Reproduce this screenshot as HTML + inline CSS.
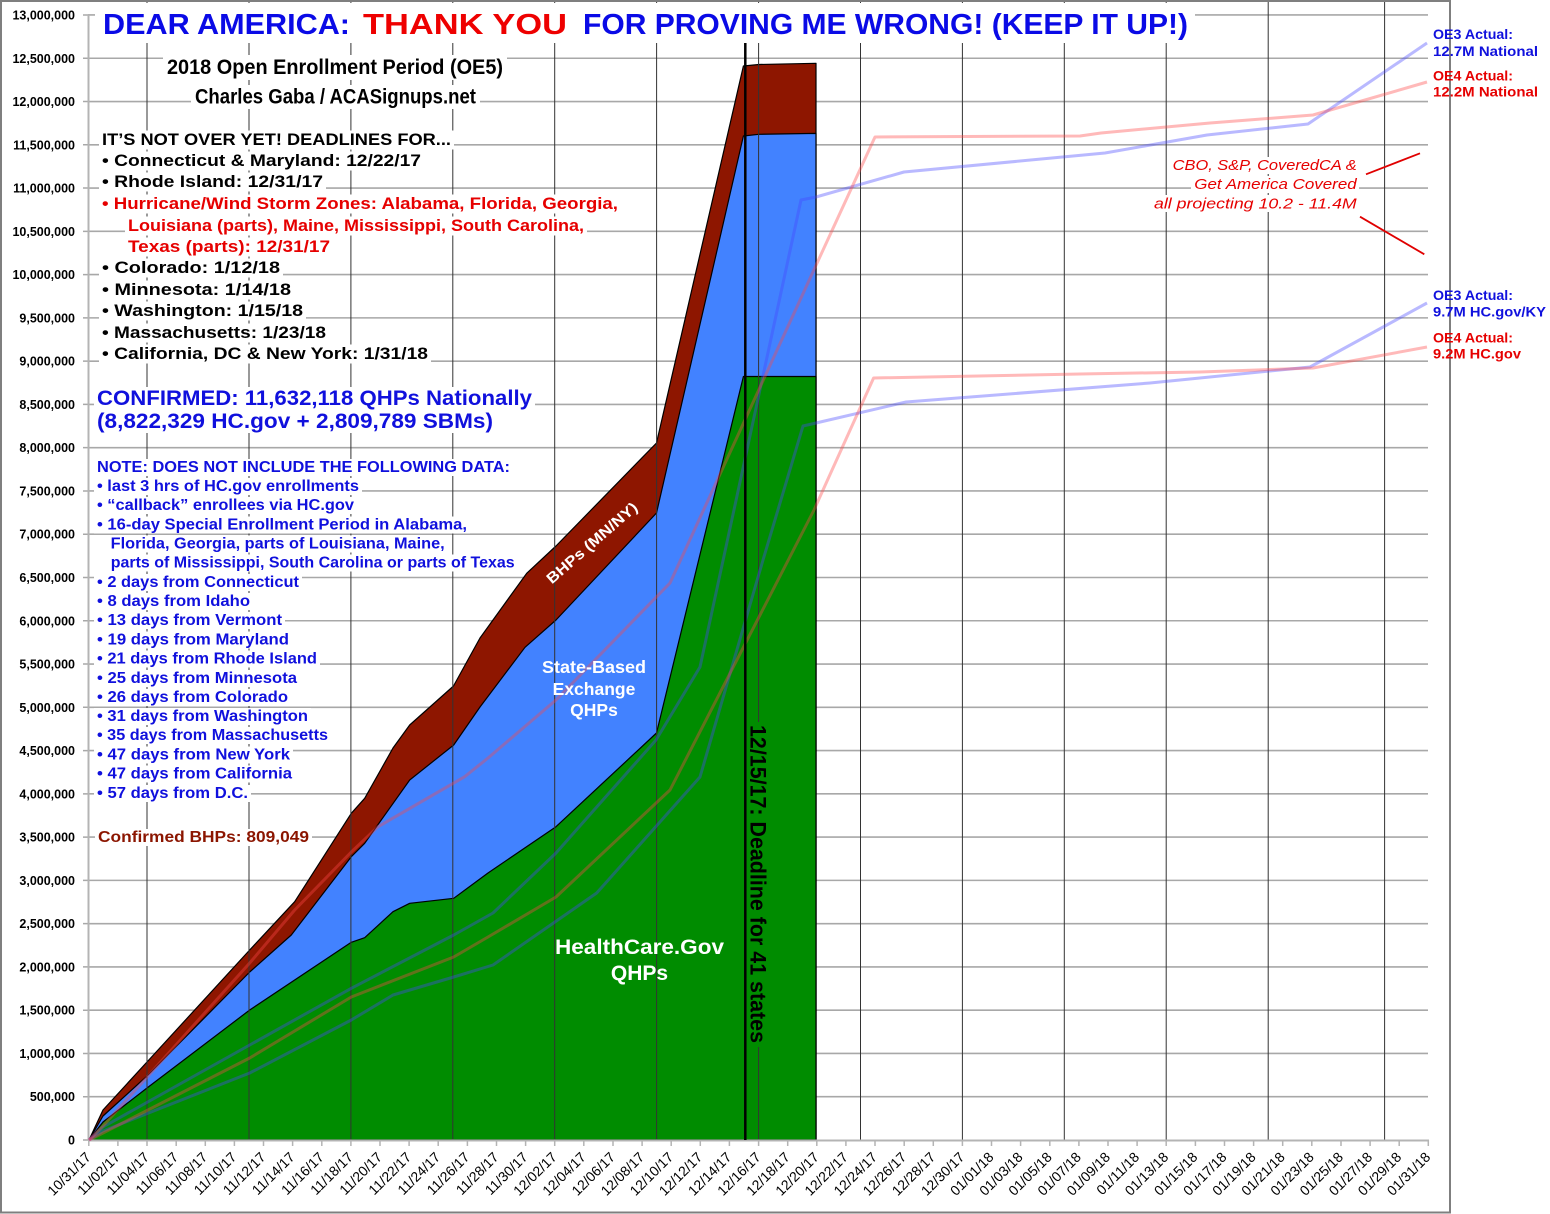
<!DOCTYPE html>
<html><head><meta charset="utf-8"><style>html,body{margin:0;padding:0;background:#fff}svg{display:block}</style></head>
<body>
<svg width="1550" height="1214" viewBox="0 0 1550 1214" xmlns="http://www.w3.org/2000/svg" font-family="'Liberation Sans', sans-serif">
<rect x="0" y="0" width="1550" height="1214" fill="#fff"/>
<!-- frame -->
<rect x="1" y="1" width="1449" height="1211.5" fill="none" stroke="#7f7f7f" stroke-width="2"/>
<!-- horizontal gridlines -->
<path stroke="#a8a8a8" stroke-width="1.6" fill="none" d="M88 1096.73H1428M88 1053.46H1428M88 1010.19H1428M88 966.92H1428M88 923.65H1428M88 880.38H1428M88 837.11H1428M88 793.84H1428M88 750.57H1428M88 707.3H1428M88 664.03H1428M88 620.76H1428M88 577.49H1428M88 534.22H1428M88 490.95H1428M88 447.68H1428M88 404.41H1428M88 361.14H1428M88 317.87H1428M88 274.6H1428M88 231.33H1428M88 188.06H1428M88 144.79H1428M88 101.52H1428M88 58.25H1428M88 14.98H1428"/>
<!-- y ticks -->
<path stroke="#a8a8a8" stroke-width="1.5" fill="none" d="M83 1140H88M83 1096.73H88M83 1053.46H88M83 1010.19H88M83 966.92H88M83 923.65H88M83 880.38H88M83 837.11H88M83 793.84H88M83 750.57H88M83 707.3H88M83 664.03H88M83 620.76H88M83 577.49H88M83 534.22H88M83 490.95H88M83 447.68H88M83 404.41H88M83 361.14H88M83 317.87H88M83 274.6H88M83 231.33H88M83 188.06H88M83 144.79H88M83 101.52H88M83 58.25H88M83 14.98H88"/>
<!-- areas -->
<polygon fill="#8e1600" stroke="#000" stroke-width="1.2" stroke-linejoin="round" points="89,1140 103,1110 147,1062 249.7,950 294.7,901.7 351.3,813.3 364.7,798.3 393,748 409.7,725 453.5,686 480,638 526.7,573.3 556,546 656.5,443 743.4,66 758.8,64.5 816,63.3 816,1140"/>
<polygon fill="#4282ff" stroke="#000" stroke-width="1.2" stroke-linejoin="round" points="89,1140 103,1116 147,1076 249.7,972 291.3,935 351.3,856.7 364.7,843.3 409.7,780 453.7,745 480,707 525,647.3 556,620 656.5,513 743.4,136 758.8,134.3 816,133.4 816,1140"/>
<polygon fill="#008c00" stroke="#000" stroke-width="1.2" stroke-linejoin="round" points="89,1140 103,1122 147,1088 249.7,1010 351.3,942.3 364.7,937.7 393,911.7 409.7,903.3 453.7,898.3 488,873 556,826.7 656.5,733 743.4,376.5 816,376.5 816,1140"/>
<!-- vertical gridlines -->
<path stroke="#333" stroke-width="1" fill="none" d="M147 2V1140M249 2V1140M350.9 2V1140M452.8 2V1140M554.7 2V1140M656.6 2V1140M758.6 2V1140M860.5 2V1140M962.4 2V1140M1064.3 2V1140M1166.2 2V1140M1268.2 2V1140M1384.6 2V1140"/>
<!-- axes -->
<path stroke="#b4b4b4" stroke-width="2" fill="none" d="M88.5 15V1140M88 1140.5H1429"/>
<path stroke="#b4b4b4" stroke-width="1.5" fill="none" d="M88.8 1140V1146M117.9 1140V1146M147 1140V1146M176.2 1140V1146M205.3 1140V1146M234.4 1140V1146M263.5 1140V1146M292.6 1140V1146M321.8 1140V1146M350.9 1140V1146M380 1140V1146M409.1 1140V1146M438.2 1140V1146M467.4 1140V1146M496.5 1140V1146M525.6 1140V1146M554.7 1140V1146M583.8 1140V1146M613 1140V1146M642.1 1140V1146M671.2 1140V1146M700.3 1140V1146M729.4 1140V1146M758.6 1140V1146M787.7 1140V1146M816.8 1140V1146M845.9 1140V1146M875 1140V1146M904.2 1140V1146M933.3 1140V1146M962.4 1140V1146M991.5 1140V1146M1020.6 1140V1146M1049.8 1140V1146M1078.9 1140V1146M1108 1140V1146M1137.1 1140V1146M1166.2 1140V1146M1195.4 1140V1146M1224.5 1140V1146M1253.6 1140V1146M1282.7 1140V1146M1311.8 1140V1146M1341 1140V1146M1370.1 1140V1146M1399.2 1140V1146M1428.3 1140V1146"/>
<!-- overlay lines -->
<g fill="none" stroke-width="3" stroke-linejoin="round">
<polyline stroke="rgba(70,70,255,0.38)" points="89,1140 103,1127 249.7,1045 351.3,988.3 453.7,935 493,913 556,853 656,740 700,667 801,200 816,197 904,172 1105,153 1207,135 1308,124 1427,43"/>
<polyline stroke="rgba(70,70,255,0.38)" points="89,1140 103,1131 249.7,1073 351.3,1020 393,995 453.7,977 493,965 596.7,893 700,777 763,560 803,426 816,423 906,402 1150,383 1310,367 1427,303"/>
<polyline stroke="rgba(255,70,70,0.38)" points="89,1140 103,1126 249.7,963 294.7,910 351.3,852 378,826.7 464.7,776.7 488,758 556,700 670,583 875,137 1080,136 1101,133 1210,123 1313,115 1427,82"/>
<polyline stroke="rgba(255,70,70,0.38)" points="89,1140 103,1133 249.7,1058 351.3,997 453.7,957 488,937 556,897 670,790 814,510 873.6,378 1080,374 1200,372 1313,368 1427,347"/>
</g>
<!-- deadline line -->
<line x1="745.3" y1="43" x2="745.3" y2="1140" stroke="#000" stroke-width="2.5"/>
<rect x="748.5" y="722" width="21" height="325" fill="#008c00"/>
<text transform="translate(750.5,725) rotate(90)" font-size="22" font-weight="bold" fill="#000" textLength="318" lengthAdjust="spacingAndGlyphs">12/15/17: Deadline for 41 states</text>

<!-- y labels -->
<g font-size="12.5" font-weight="bold" fill="#000" text-anchor="end">
<text x="75" y="1144.5">0</text>
<text x="75" y="1101.2">500,000</text>
<text x="75" y="1058">1,000,000</text>
<text x="75" y="1014.7">1,500,000</text>
<text x="75" y="971.4">2,000,000</text>
<text x="75" y="928.2">2,500,000</text>
<text x="75" y="884.9">3,000,000</text>
<text x="75" y="841.6">3,500,000</text>
<text x="75" y="798.3">4,000,000</text>
<text x="75" y="755.1">4,500,000</text>
<text x="75" y="711.8">5,000,000</text>
<text x="75" y="668.5">5,500,000</text>
<text x="75" y="625.3">6,000,000</text>
<text x="75" y="582">6,500,000</text>
<text x="75" y="538.7">7,000,000</text>
<text x="75" y="495.5">7,500,000</text>
<text x="75" y="452.2">8,000,000</text>
<text x="75" y="408.9">8,500,000</text>
<text x="75" y="365.6">9,000,000</text>
<text x="75" y="322.4">9,500,000</text>
<text x="75" y="279.1">10,000,000</text>
<text x="75" y="235.8">10,500,000</text>
<text x="75" y="192.6">11,000,000</text>
<text x="75" y="149.3">11,500,000</text>
<text x="75" y="106">12,000,000</text>
<text x="75" y="62.8">12,500,000</text>
<text x="75" y="19.5">13,000,000</text>
</g>

<!-- x labels -->
<g font-size="14" fill="#000" text-anchor="end">
<text transform="translate(91.8,1158) rotate(-45)">10/31/17</text>
<text transform="translate(120.9,1158) rotate(-45)">11/02/17</text>
<text transform="translate(150,1158) rotate(-45)">11/04/17</text>
<text transform="translate(179.2,1158) rotate(-45)">11/06/17</text>
<text transform="translate(208.3,1158) rotate(-45)">11/08/17</text>
<text transform="translate(237.4,1158) rotate(-45)">11/10/17</text>
<text transform="translate(266.5,1158) rotate(-45)">11/12/17</text>
<text transform="translate(295.6,1158) rotate(-45)">11/14/17</text>
<text transform="translate(324.8,1158) rotate(-45)">11/16/17</text>
<text transform="translate(353.9,1158) rotate(-45)">11/18/17</text>
<text transform="translate(383,1158) rotate(-45)">11/20/17</text>
<text transform="translate(412.1,1158) rotate(-45)">11/22/17</text>
<text transform="translate(441.2,1158) rotate(-45)">11/24/17</text>
<text transform="translate(470.4,1158) rotate(-45)">11/26/17</text>
<text transform="translate(499.5,1158) rotate(-45)">11/28/17</text>
<text transform="translate(528.6,1158) rotate(-45)">11/30/17</text>
<text transform="translate(557.7,1158) rotate(-45)">12/02/17</text>
<text transform="translate(586.8,1158) rotate(-45)">12/04/17</text>
<text transform="translate(616,1158) rotate(-45)">12/06/17</text>
<text transform="translate(645.1,1158) rotate(-45)">12/08/17</text>
<text transform="translate(674.2,1158) rotate(-45)">12/10/17</text>
<text transform="translate(703.3,1158) rotate(-45)">12/12/17</text>
<text transform="translate(732.4,1158) rotate(-45)">12/14/17</text>
<text transform="translate(761.6,1158) rotate(-45)">12/16/17</text>
<text transform="translate(790.7,1158) rotate(-45)">12/18/17</text>
<text transform="translate(819.8,1158) rotate(-45)">12/20/17</text>
<text transform="translate(848.9,1158) rotate(-45)">12/22/17</text>
<text transform="translate(878,1158) rotate(-45)">12/24/17</text>
<text transform="translate(907.2,1158) rotate(-45)">12/26/17</text>
<text transform="translate(936.3,1158) rotate(-45)">12/28/17</text>
<text transform="translate(965.4,1158) rotate(-45)">12/30/17</text>
<text transform="translate(994.5,1158) rotate(-45)">01/01/18</text>
<text transform="translate(1023.6,1158) rotate(-45)">01/03/18</text>
<text transform="translate(1052.8,1158) rotate(-45)">01/05/18</text>
<text transform="translate(1081.9,1158) rotate(-45)">01/07/18</text>
<text transform="translate(1111,1158) rotate(-45)">01/09/18</text>
<text transform="translate(1140.1,1158) rotate(-45)">01/11/18</text>
<text transform="translate(1169.2,1158) rotate(-45)">01/13/18</text>
<text transform="translate(1198.4,1158) rotate(-45)">01/15/18</text>
<text transform="translate(1227.5,1158) rotate(-45)">01/17/18</text>
<text transform="translate(1256.6,1158) rotate(-45)">01/19/18</text>
<text transform="translate(1285.7,1158) rotate(-45)">01/21/18</text>
<text transform="translate(1314.8,1158) rotate(-45)">01/23/18</text>
<text transform="translate(1344,1158) rotate(-45)">01/25/18</text>
<text transform="translate(1373.1,1158) rotate(-45)">01/27/18</text>
<text transform="translate(1402.2,1158) rotate(-45)">01/29/18</text>
<text transform="translate(1431.3,1158) rotate(-45)">01/31/18</text>
</g>

<!-- text backgrounds -->
<g fill="#fff">
<rect x="95" y="3" width="1100" height="40"/>
<rect x="163" y="55" width="344" height="25"/>
<rect x="191" y="85" width="289" height="24"/>
<rect x="99" y="130.5" width="355" height="19"/>
<rect x="99" y="151.5" width="325" height="19"/>
<rect x="99" y="172.5" width="227" height="19"/>
<rect x="99" y="194.5" width="522" height="19"/>
<rect x="125" y="216.5" width="462" height="19"/>
<rect x="125" y="237.5" width="208" height="19"/>
<rect x="99" y="258.5" width="184" height="19"/>
<rect x="99" y="280.5" width="195" height="19"/>
<rect x="99" y="301.5" width="207" height="19"/>
<rect x="99" y="323.5" width="230" height="19"/>
<rect x="99" y="344.5" width="332" height="19"/>
<rect x="94" y="387" width="441" height="23"/>
<rect x="94" y="410" width="402" height="23"/>
<rect x="94" y="459" width="419" height="17"/>
<rect x="94" y="478" width="268" height="17"/>
<rect x="94" y="497" width="263" height="17"/>
<rect x="94" y="516.5" width="376" height="17"/>
<rect x="108" y="535.5" width="340" height="17"/>
<rect x="108" y="554.5" width="410" height="17"/>
<rect x="94" y="574" width="208" height="17"/>
<rect x="94" y="593" width="159" height="17"/>
<rect x="94" y="612" width="191" height="17"/>
<rect x="94" y="631.5" width="198" height="17"/>
<rect x="94" y="650.5" width="226" height="17"/>
<rect x="94" y="670" width="206" height="17"/>
<rect x="94" y="689" width="197" height="17"/>
<rect x="94" y="708" width="217" height="17"/>
<rect x="94" y="727" width="237" height="17"/>
<rect x="94" y="746.5" width="199" height="17"/>
<rect x="94" y="765.5" width="201" height="17"/>
<rect x="94" y="785" width="157" height="17"/>
<rect x="95" y="829" width="217" height="17"/>
<rect x="1170" y="157" width="190" height="17"/>
<rect x="1191" y="176" width="168" height="17"/>
<rect x="1151" y="195" width="209" height="17"/>
</g>

<!-- title -->
<g font-weight="bold" font-size="29">
<text x="103" y="34" fill="#0a0ae6" textLength="247" lengthAdjust="spacingAndGlyphs">DEAR AMERICA:</text>
<text x="363" y="34" fill="#ee0000" textLength="204" lengthAdjust="spacingAndGlyphs">THANK YOU</text>
<text x="583" y="34" fill="#0a0ae6" textLength="605" lengthAdjust="spacingAndGlyphs">FOR PROVING ME WRONG! (KEEP IT UP!)</text>
</g>
<g font-weight="bold" font-size="21.5" fill="#000">
<text x="167" y="74" textLength="336" lengthAdjust="spacingAndGlyphs">2018 Open Enrollment Period (OE5)</text>
<text x="195" y="103.5" textLength="281" lengthAdjust="spacingAndGlyphs">Charles Gaba / ACASignups.net</text>
</g>

<!-- deadlines block -->
<g font-weight="bold" font-size="17" fill="#000">
<text x="102" y="145" textLength="349" lengthAdjust="spacingAndGlyphs">IT’S NOT OVER YET! DEADLINES FOR...</text>
<text x="102" y="166" textLength="319" lengthAdjust="spacingAndGlyphs">• Connecticut &amp; Maryland: 12/22/17</text>
<text x="102" y="187" textLength="221" lengthAdjust="spacingAndGlyphs">• Rhode Island: 12/31/17</text>
<text x="102" y="209" fill="#e60000" textLength="516" lengthAdjust="spacingAndGlyphs">• Hurricane/Wind Storm Zones: Alabama, Florida, Georgia,</text>
<text x="128" y="231" fill="#e60000" textLength="456" lengthAdjust="spacingAndGlyphs">Louisiana (parts), Maine, Mississippi, South Carolina,</text>
<text x="128" y="252" fill="#e60000" textLength="202" lengthAdjust="spacingAndGlyphs">Texas (parts): 12/31/17</text>
<text x="102" y="273" textLength="178" lengthAdjust="spacingAndGlyphs">• Colorado: 1/12/18</text>
<text x="102" y="295" textLength="189" lengthAdjust="spacingAndGlyphs">• Minnesota: 1/14/18</text>
<text x="102" y="316" textLength="201" lengthAdjust="spacingAndGlyphs">• Washington: 1/15/18</text>
<text x="102" y="338" textLength="224" lengthAdjust="spacingAndGlyphs">• Massachusetts: 1/23/18</text>
<text x="102" y="359" textLength="326" lengthAdjust="spacingAndGlyphs">• California, DC &amp; New York: 1/31/18</text>
</g>

<!-- confirmed block -->
<g font-weight="bold" fill="#1010dd">
<text x="97" y="405" font-size="21" textLength="435" lengthAdjust="spacingAndGlyphs">CONFIRMED: 11,632,118 QHPs Nationally</text>
<text x="97" y="428" font-size="21" textLength="396" lengthAdjust="spacingAndGlyphs">(8,822,329 HC.gov + 2,809,789 SBMs)</text>
<g font-size="16">
<text x="97" y="472" textLength="413" lengthAdjust="spacingAndGlyphs">NOTE: DOES NOT INCLUDE THE FOLLOWING DATA:</text>
<text x="97" y="491" textLength="262" lengthAdjust="spacingAndGlyphs">• last 3 hrs of HC.gov enrollments</text>
<text x="97" y="510" textLength="257" lengthAdjust="spacingAndGlyphs">• “callback” enrollees via HC.gov</text>
<text x="97" y="529.5" textLength="370" lengthAdjust="spacingAndGlyphs">• 16-day Special Enrollment Period in Alabama,</text>
<text x="110.7" y="548.5" textLength="334" lengthAdjust="spacingAndGlyphs">Florida, Georgia, parts of Louisiana, Maine,</text>
<text x="110.7" y="567.5" textLength="404" lengthAdjust="spacingAndGlyphs">parts of Mississippi, South Carolina or parts of Texas</text>
<text x="97" y="587" textLength="202" lengthAdjust="spacingAndGlyphs">• 2 days from Connecticut</text>
<text x="97" y="606" textLength="153" lengthAdjust="spacingAndGlyphs">• 8 days from Idaho</text>
<text x="97" y="625" textLength="185" lengthAdjust="spacingAndGlyphs">• 13 days from Vermont</text>
<text x="97" y="644.5" textLength="192" lengthAdjust="spacingAndGlyphs">• 19 days from Maryland</text>
<text x="97" y="663.5" textLength="220" lengthAdjust="spacingAndGlyphs">• 21 days from Rhode Island</text>
<text x="97" y="683" textLength="200" lengthAdjust="spacingAndGlyphs">• 25 days from Minnesota</text>
<text x="97" y="702" textLength="191" lengthAdjust="spacingAndGlyphs">• 26 days from Colorado</text>
<text x="97" y="721" textLength="211" lengthAdjust="spacingAndGlyphs">• 31 days from Washington</text>
<text x="97" y="740" textLength="231" lengthAdjust="spacingAndGlyphs">• 35 days from Massachusetts</text>
<text x="97" y="759.5" textLength="193" lengthAdjust="spacingAndGlyphs">• 47 days from New York</text>
<text x="97" y="778.5" textLength="195" lengthAdjust="spacingAndGlyphs">• 47 days from California</text>
<text x="97" y="798" textLength="151" lengthAdjust="spacingAndGlyphs">• 57 days from D.C.</text>
</g>
</g>
<text x="98" y="842" font-weight="bold" font-size="16" fill="#8b1500" textLength="211" lengthAdjust="spacingAndGlyphs">Confirmed BHPs: 809,049</text>

<!-- in-chart labels -->
<text transform="translate(592,543) rotate(-41)" y="5" text-anchor="middle" font-weight="bold" font-size="15" fill="#fff" textLength="115" lengthAdjust="spacingAndGlyphs">BHPs (MN/NY)</text>
<g font-weight="bold" fill="#fff" text-anchor="middle">
<text x="594" y="673" font-size="17.5" textLength="104" lengthAdjust="spacingAndGlyphs">State-Based</text>
<text x="594" y="695" font-size="17.5">Exchange</text>
<text x="594" y="716" font-size="17.5">QHPs</text>
<text x="639.5" y="954" font-size="21" textLength="169" lengthAdjust="spacingAndGlyphs">HealthCare.Gov</text>
<text x="639.5" y="980" font-size="21">QHPs</text>
</g>

<!-- right annotations -->
<g font-weight="bold" font-size="13.5">
<text x="1433" y="39" fill="#1010dd" textLength="80" lengthAdjust="spacingAndGlyphs">OE3 Actual:</text>
<text x="1433" y="56" fill="#1010dd" textLength="105" lengthAdjust="spacingAndGlyphs">12.7M National</text>
<text x="1433" y="80.7" fill="#e60000" textLength="80" lengthAdjust="spacingAndGlyphs">OE4 Actual:</text>
<text x="1433" y="96.7" fill="#e60000" textLength="105" lengthAdjust="spacingAndGlyphs">12.2M National</text>
<text x="1433" y="300" fill="#1010dd" textLength="80" lengthAdjust="spacingAndGlyphs">OE3 Actual:</text>
<text x="1433" y="316.7" fill="#1010dd" textLength="113" lengthAdjust="spacingAndGlyphs">9.7M HC.gov/KY</text>
<text x="1433" y="342.3" fill="#e60000" textLength="80" lengthAdjust="spacingAndGlyphs">OE4 Actual:</text>
<text x="1433" y="358.3" fill="#e60000" textLength="88" lengthAdjust="spacingAndGlyphs">9.2M HC.gov</text>
</g>
<g font-style="italic" font-size="15" fill="#e60000">
<text x="1172.7" y="170" textLength="184" lengthAdjust="spacingAndGlyphs">CBO, S&amp;P, CoveredCA &amp;</text>
<text x="1194.3" y="189" textLength="162.4" lengthAdjust="spacingAndGlyphs">Get America Covered</text>
<text x="1154" y="208.3" textLength="202.7" lengthAdjust="spacingAndGlyphs">all projecting 10.2 - 11.4M</text>
</g>
<path d="M1366 174.3L1420 153.3M1360 216.7L1424.3 254.3" stroke="#e00000" stroke-width="1.8" fill="none"/>
</svg>
</body></html>
